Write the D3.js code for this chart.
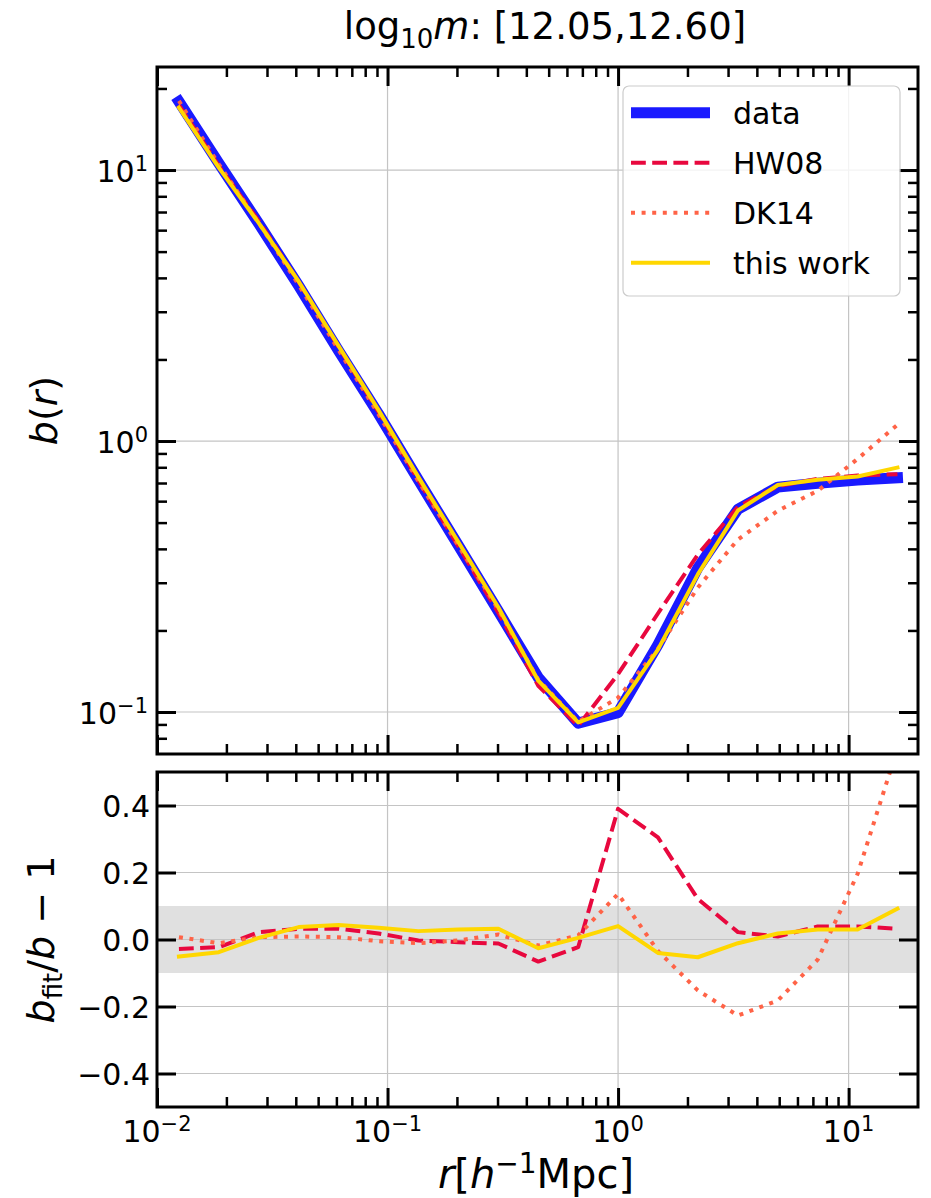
<!DOCTYPE html>
<html>
<head>
<meta charset="utf-8">
<script src="https://cdn.jsdelivr.net/npm/d3@7"></script>
<style>
  body { margin: 0; background: #fff; }
</style>
</head>
<body>
<div id="chart"></div>
<script>
// bias profile b(r) for the mass bin log10 m in [12.05, 12.60], plus fit residuals

// radial bins (h^-1 Mpc)
const radius = [0.01245, 0.01854, 0.02761, 0.04117, 0.06138, 0.0914, 0.1361, 0.2028, 0.3027,
  0.4508, 0.6714, 1.0, 1.489, 2.218, 3.311, 4.932, 7.345, 10.94, 16.29];

// top panel: b(r)
const biasData = [17.9, 10.6, 6.35, 3.74, 2.15, 1.26, 0.718, 0.412, 0.235, 0.134, 0.091, 0.0995,
  0.177, 0.340, 0.560, 0.676, 0.698, 0.718, 0.731];
const biasHW08 = [17.4, 10.36, 6.49, 3.86, 2.22, 1.28, 0.716, 0.409, 0.232, 0.125, 0.0889, 0.138,
  0.231, 0.381, 0.572, 0.682, 0.725, 0.746, 0.754];
const biasDK14 = [18.0, 10.5, 6.39, 3.77, 2.165, 1.254, 0.710, 0.411, 0.2385, 0.1316, 0.0921, 0.113,
  0.171, 0.288, 0.433, 0.553, 0.655, 0.859, 1.148];
const biasThis = [17.0, 10.2, 6.38, 3.88, 2.24, 1.30, 0.736, 0.424, 0.243, 0.1305, 0.0915, 0.1035,
  0.170, 0.322, 0.554, 0.688, 0.719, 0.740, 0.798];

// bottom panel: b_fit / b - 1
const resHW08 = [-0.028, -0.023, 0.022, 0.032, 0.032, 0.018, -0.003, -0.008, -0.012, -0.066, -0.023,
  0.39, 0.305, 0.121, 0.022, 0.009, 0.039, 0.039, 0.032];
const resDK14 = [0.007, -0.011, 0.007, 0.009, 0.007, -0.005, -0.011, -0.003, 0.015, -0.018, 0.012,
  0.136, -0.034, -0.152, -0.227, -0.182, -0.06, 0.196, 0.57];
const resThis = [-0.051, -0.038, 0.005, 0.037, 0.043, 0.035, 0.025, 0.03, 0.032, -0.026, 0.005,
  0.04, -0.04, -0.053, -0.011, 0.018, 0.03, 0.03, 0.092];

// ticks
const xMajor = [0.01, 0.1, 1, 10];
const yTopMajor = [0.1, 1, 10];
const yBotMajor = [-0.4, -0.2, 0.0, 0.2, 0.4];
const bandLimits = [-0.1, 0.1];

const legendNames = ['data', 'HW08', 'DK14', 'this work'];

// ---------------------------------------------------------------------------
const W = 931, H = 1198;
const L = 157, R = 918;
const TOP = [67, 754], BOT = [772, 1107];

const svg = d3.select('#chart').append('svg')
  .attr('width', W).attr('height', H)
  .style('font-family', '"DejaVu Sans", sans-serif');

const x = d3.scaleLog().domain([0.01, 20]).range([L, R]);
const yTop = d3.scaleLog().domain([0.07, 24]).range([TOP[1], TOP[0]]);
const yBot = d3.scaleLinear().domain([-0.5, 0.5]).range([BOT[1], BOT[0]]);

const styles = {
  data: { color: '#1a1aff', width: 11, dash: null, cap: 'square' },
  HW08: { color: '#e8083e', width: 4, dash: '14.8,6.4', cap: 'butt' },
  DK14: { color: '#ff6347', width: 4, dash: '4,6.6', cap: 'butt' },
  'this work': { color: '#ffd700', width: 4, dash: null, cap: 'square' }
};

function minorLog(domain) {
  const out = [];
  for (let e = -3; e <= 2; e++) {
    for (let k = 2; k <= 9; k++) {
      const v = +(k * Math.pow(10, e)).toPrecision(6);
      if (v > domain[0] && v < domain[1]) out.push(v);
    }
  }
  return out;
}

function styleLine(path, name) {
  const s = styles[name];
  path.attr('fill', 'none').attr('stroke', s.color).attr('stroke-width', s.width)
    .attr('stroke-linejoin', 'round').attr('stroke-linecap', s.cap);
  if (s.dash) path.attr('stroke-dasharray', s.dash);
  return path;
}

// "10" with a superscript exponent
function powLabel(text, exp, fontSize) {
  text.append('tspan').text('10');
  text.append('tspan').attr('font-size', fontSize * 0.7).attr('dy', -fontSize * 0.36)
    .text(exp < 0 ? '\u2212' + (-exp) : String(exp));
}

function panel(y0, y1, yScale, yMajor, yMinor, clipId) {
  const g = svg.append('g');

  g.append('defs').append('clipPath').attr('id', clipId)
    .append('rect').attr('x', L).attr('y', y0).attr('width', R - L).attr('height', y1 - y0);

  // grid
  const grid = g.append('g').attr('stroke', '#c4c4c4').attr('stroke-width', 1.2);
  xMajor.filter(v => x(v) > L + 2).forEach(v => grid.append('line')
    .attr('x1', x(v)).attr('x2', x(v)).attr('y1', y0).attr('y2', y1));
  yMajor.forEach(v => grid.append('line')
    .attr('x1', L).attr('x2', R).attr('y1', yScale(v)).attr('y2', yScale(v)));

  const plot = g.append('g').attr('clip-path', `url(#${clipId})`);

  // ticks (inward, all four sides)
  const xMinor = minorLog(x.domain());
  const tickGroup = g.append('g');
  const addAxis = (axis, tx, ty) => {
    const a = tickGroup.append('g').attr('transform', `translate(${tx},${ty})`).call(axis);
    a.select('.domain').remove();
    a.selectAll('.tick line').attr('stroke', '#000');
    return a;
  };
  [[d3.axisBottom, y1], [d3.axisTop, y0]].forEach(([mk, ty]) => {
    addAxis(mk(x).tickValues(xMajor).tickSize(-19).tickFormat(''), 0, ty)
      .selectAll('.tick line').attr('stroke-width', 3);
    addAxis(mk(x).tickValues(xMinor).tickSize(-10).tickFormat(''), 0, ty)
      .selectAll('.tick line').attr('stroke-width', 2.5);
  });
  [[d3.axisLeft, L], [d3.axisRight, R]].forEach(([mk, tx]) => {
    addAxis(mk(yScale).tickValues(yMajor).tickSize(-19).tickFormat(''), tx, 0)
      .selectAll('.tick line').attr('stroke-width', 3);
    if (yMinor.length) {
      addAxis(mk(yScale).tickValues(yMinor).tickSize(-10).tickFormat(''), tx, 0)
        .selectAll('.tick line').attr('stroke-width', 2.5);
    }
  });

  return { g, grid, plot };
}

// ---------------------------------------------------------------- top panel
const topPanel = panel(TOP[0], TOP[1], yTop, yTopMajor, minorLog(yTop.domain()), 'clipTop');

const lineTop = vals => d3.line().x((d, i) => x(radius[i])).y(d => yTop(d))(vals);
[['data', biasData], ['HW08', biasHW08], ['DK14', biasDK14], ['this work', biasThis]]
  .forEach(([name, vals]) => styleLine(topPanel.plot.append('path').attr('d', lineTop(vals)), name));

yTopMajor.forEach(v => {
  const t = topPanel.g.append('text').attr('x', L - 9).attr('y', yTop(v) + 12)
    .attr('text-anchor', 'end').attr('font-size', 30);
  powLabel(t, Math.round(Math.log10(v)), 30);
});

// legend
const leg = topPanel.g.append('g');
leg.append('rect').attr('x', 623).attr('y', 86).attr('width', 277).attr('height', 210)
  .attr('rx', 6).attr('fill', '#fff').attr('fill-opacity', 0.8)
  .attr('stroke', '#cccccc').attr('stroke-width', 1.2);
legendNames.forEach((name, i) => {
  const ly = 112.7 + i * 50;
  styleLine(leg.append('path').attr('d', `M631,${ly}H710`), name)
    .attr('stroke-linecap', 'butt');
  leg.append('text').attr('x', 733).attr('y', ly + 11).attr('font-size', 30).text(name);
});

// ------------------------------------------------------------- bottom panel
const botPanel = panel(BOT[0], BOT[1], yBot, yBotMajor, [], 'clipBot');

// ±10% band sits under the grid
botPanel.g.insert('rect', () => botPanel.grid.node())
  .attr('x', L).attr('width', R - L)
  .attr('y', yBot(bandLimits[1])).attr('height', yBot(bandLimits[0]) - yBot(bandLimits[1]))
  .attr('fill', '#e0e0e0');

const lineBot = vals => d3.line().x((d, i) => x(radius[i])).y(d => yBot(d))(vals);
[['HW08', resHW08], ['DK14', resDK14], ['this work', resThis]]
  .forEach(([name, vals]) => styleLine(botPanel.plot.append('path').attr('d', lineBot(vals)), name));

yBotMajor.forEach(v => {
  botPanel.g.append('text').attr('x', L - 7).attr('y', yBot(v) + 11)
    .attr('text-anchor', 'end').attr('font-size', 30)
    .text(d3.format('.1f')(v).replace('-', '\u2212'));
});
xMajor.forEach(v => {
  const t = botPanel.g.append('text').attr('x', x(v)).attr('y', 1142)
    .attr('text-anchor', 'middle').attr('font-size', 30);
  powLabel(t, Math.round(Math.log10(v)), 30);
});

// spines on top of everything
[[TOP[0], TOP[1]], [BOT[0], BOT[1]]].forEach(([a, b]) => svg.append('rect')
  .attr('x', L).attr('y', a).attr('width', R - L).attr('height', b - a)
  .attr('fill', 'none').attr('stroke', '#000').attr('stroke-width', 3));

// ------------------------------------------------------------------- labels
const title = svg.append('text').attr('x', 545).attr('y', 39).attr('text-anchor', 'middle')
  .attr('font-size', 37);
title.append('tspan').text('log');
title.append('tspan').attr('font-size', 26).attr('dy', 9).text('10');
title.append('tspan').attr('dy', -9).attr('font-style', 'italic').text('m');
title.append('tspan').text(': [12.05,12.60]');

const xlab = svg.append('text').attr('x', 536).attr('y', 1188).attr('text-anchor', 'middle')
  .attr('font-size', 40);
xlab.append('tspan').attr('font-style', 'italic').text('r');
xlab.append('tspan').text('[');
xlab.append('tspan').attr('font-style', 'italic').text('h');
xlab.append('tspan').attr('font-size', 28).attr('dy', -15).text('\u22121');
xlab.append('tspan').attr('dy', 15).text('Mpc]');

const ylabTop = svg.append('text').attr('transform', `translate(57,${(TOP[0] + TOP[1]) / 2}) rotate(-90)`)
  .attr('text-anchor', 'middle').attr('font-size', 38);
ylabTop.append('tspan').attr('font-style', 'italic').text('b');
ylabTop.append('tspan').text('(');
ylabTop.append('tspan').attr('font-style', 'italic').text('r');
ylabTop.append('tspan').text(')');

const ylabBot = svg.append('text').attr('transform', `translate(54,${(BOT[0] + BOT[1]) / 2}) rotate(-90)`)
  .attr('text-anchor', 'middle').attr('font-size', 38);
ylabBot.append('tspan').attr('font-style', 'italic').text('b');
ylabBot.append('tspan').attr('font-size', 26).attr('dy', 8).text('fit');
ylabBot.append('tspan').attr('dy', -8).text('/');
ylabBot.append('tspan').attr('font-style', 'italic').text('b');
ylabBot.append('tspan').text(' \u2212 1');
</script>
</body>
</html>
